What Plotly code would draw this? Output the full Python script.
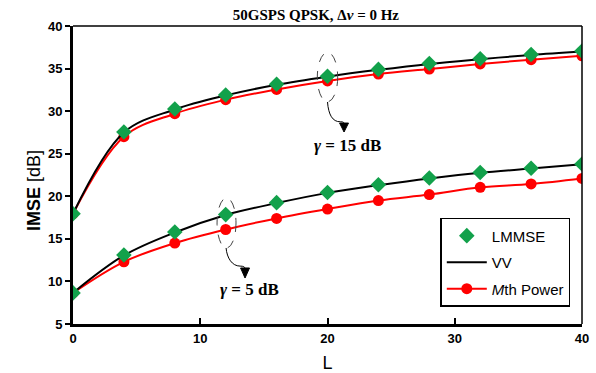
import plotly.graph_objects as go

L = [0, 4, 8, 12, 16, 20, 24, 28, 32, 36, 40]

lmmse_15 = [17.95, 27.55, 30.25, 31.9, 33.15, 34.1, 34.9, 35.6, 36.15, 36.65, 37.05]
vv_15 = [17.95, 27.5, 30.2, 31.85, 33.1, 34.05, 34.85, 35.55, 36.1, 36.6, 37.0]
mth_15 = [17.95, 27.0, 29.7, 31.35, 32.55, 33.55, 34.35, 34.95, 35.55, 36.05, 36.5]

lmmse_5 = [8.65, 13.1, 15.8, 17.85, 19.25, 20.45, 21.35, 22.15, 22.8, 23.3, 23.8]
vv_5 = [8.65, 13.05, 15.75, 17.8, 19.2, 20.4, 21.3, 22.1, 22.75, 23.25, 23.75]
mth_5 = [8.65, 12.3, 14.5, 16.1, 17.4, 18.5, 19.5, 20.2, 21.05, 21.45, 22.1]

x_ticks = [0, 10, 20, 30, 40]
y_ticks = [5, 10, 15, 20, 25, 30, 35, 40]

GREEN = "#12A14B"
RED = "#FF0000"

fig = go.Figure()

# Mth Power
fig.add_trace(go.Scatter(x=L, y=mth_15, mode="lines+markers", line=dict(color=RED, width=2, shape="spline"),
                         marker=dict(symbol="circle", size=11, color=RED), name="<i>M</i>th Power",
                         legendgroup="m", legendrank=3))
fig.add_trace(go.Scatter(x=L, y=mth_5, mode="lines+markers", line=dict(color=RED, width=2, shape="spline"),
                         marker=dict(symbol="circle", size=11, color=RED), showlegend=False, legendgroup="m"))
# VV
fig.add_trace(go.Scatter(x=L, y=vv_15, mode="lines", line=dict(color="black", width=2, shape="spline"),
                         name="VV", legendgroup="v", legendrank=2))
fig.add_trace(go.Scatter(x=L, y=vv_5, mode="lines", line=dict(color="black", width=2, shape="spline"),
                         showlegend=False, legendgroup="v"))
# LMMSE
fig.add_trace(go.Scatter(x=L, y=lmmse_15, mode="markers", marker=dict(symbol="diamond", size=12, color=GREEN),
                         name="LMMSE", legendgroup="l", legendrank=1))
fig.add_trace(go.Scatter(x=L, y=lmmse_5, mode="markers", marker=dict(symbol="diamond", size=12, color=GREEN),
                         showlegend=False, legendgroup="l"))

shapes = []
# top and right thin frame lines
shapes.append(dict(type="line", xref="paper", yref="paper", x0=0, x1=1, y0=1, y1=1, line=dict(color="black", width=1.5)))
shapes.append(dict(type="line", xref="paper", yref="paper", x0=1, x1=1, y0=0, y1=1, line=dict(color="black", width=1.5)))
# dashed ellipses
shapes.append(dict(type="circle", xref="x", yref="y", x0=19.2, x1=20.8, y0=31.1, y1=36.9,
                   line=dict(color="#444", width=1, dash="dash")))
shapes.append(dict(type="circle", xref="x", yref="y", x0=11.32, x1=12.81, y0=13.93, y1=19.8,
                   line=dict(color="#444", width=1, dash="dash")))
# curved arrows
shapes.append(dict(type="path", xref="x", yref="y",
                   path="M 20,31.07 C 20.08,29.55 20.4,28.75 21.0,28.75 C 21.25,28.75 21.3,28.7 21.3,28.5",
                   line=dict(color="black", width=1)))
shapes.append(dict(type="path", xref="x", yref="y", path="M 20.95,28.6 L 21.65,28.6 L 21.3,27.55 Z",
                   fillcolor="black", line=dict(color="black", width=1)))
shapes.append(dict(type="path", xref="x", yref="y",
                   path="M 12.03,13.93 C 12.1,12.75 12.5,11.8 13.13,11.8 C 13.4,11.8 13.52,11.7 13.52,11.5",
                   line=dict(color="black", width=1)))
shapes.append(dict(type="path", xref="x", yref="y", path="M 13.17,11.58 L 13.87,11.58 L 13.52,10.4 Z",
                   fillcolor="black", line=dict(color="black", width=1)))

annotations = [
    dict(x=21.6, y=26.0, xref="x", yref="y", text="<b><i>γ</i> = 15 dB</b>", showarrow=False,
         font=dict(family="Liberation Serif", size=17, color="black")),
    dict(x=13.9, y=9.0, xref="x", yref="y", text="<b><i>γ</i> = 5 dB</b>", showarrow=False,
         font=dict(family="Liberation Serif", size=17, color="black")),
    dict(x=22, y=191, xref="paper", yref="paper", text="<b>IMSE</b> [dB]", showarrow=False, textangle=-90,
         font=dict(family="Liberation Sans", size=18, color="black")),
]
# convert pixel positions of y-title to paper coords
annotations[2]["x"] = (22 - 73) / 509
annotations[2]["y"] = (324 - 191) / 298

fig.update_layout(
    width=596, height=373,
    margin=dict(l=73, r=14, t=26, b=49, autoexpand=False),
    paper_bgcolor="white", plot_bgcolor="white",
    title=dict(text="<b>50GSPS QPSK, Δ<i>ν</i> = 0 Hz</b>", x=0.53, xanchor="center", y=0.96, yanchor="middle",
               font=dict(family="Liberation Serif", size=15, color="black")),
    xaxis=dict(range=[0, 40], tickvals=x_ticks, showgrid=False, zeroline=False, showline=True, linecolor="black",
               linewidth=3, ticks="inside", ticklen=6, tickwidth=1.5, tickcolor="black", automargin=False,
               tickfont=dict(family="Liberation Sans", size=13, color="black", weight="bold"),
               title=dict(text="L", font=dict(family="Liberation Sans", size=18, color="black"), standoff=15)),
    yaxis=dict(range=[5, 40], tickvals=y_ticks, showgrid=False, zeroline=False, showline=True, linecolor="black",
               linewidth=3, ticks="outside", ticklen=5, tickwidth=1.5, tickcolor="black", automargin=False,
               tickfont=dict(family="Liberation Sans", size=13, color="black", weight="bold")),
    legend=dict(x=0.7216, y=0.356, xanchor="left", yanchor="top", bordercolor="black", borderwidth=1.5,
                bgcolor="white", font=dict(family="Liberation Sans", size=15, color="black"),
                itemwidth=40, tracegroupgap=4),
    shapes=shapes,
    annotations=annotations,
    showlegend=True,
)

fig.write_html("out.html")
